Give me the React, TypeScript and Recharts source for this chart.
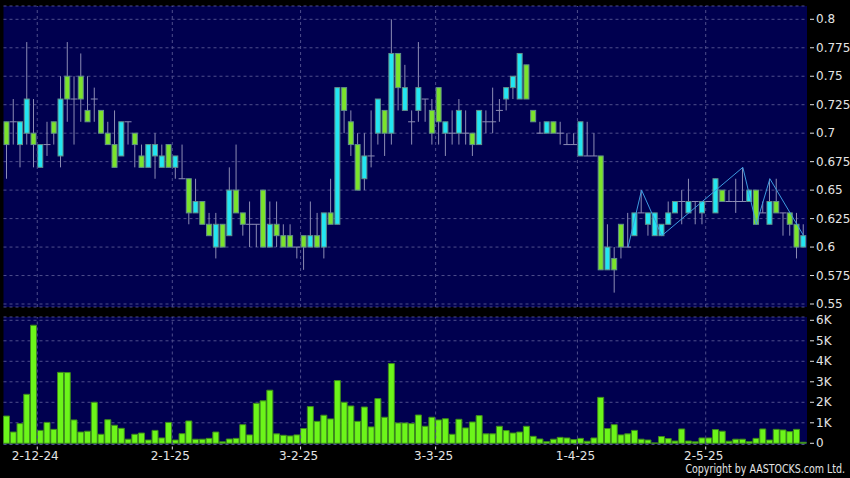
import React from "react";
import { ComposedChart, Bar, Line, XAxis, YAxis, CartesianGrid, ReferenceLine } from "recharts";

// daily OHLC, trading-day index 0 = 25 Nov 2024
const OPEN = [
  0.71, 0.71, 0.69, 0.70, 0.70, 0.67, 0.69, 0.71, 0.68, 0.75, 0.73, 0.75, 0.72, 0.73, 0.72, 0.70, 0.69, 0.68, 0.71, 0.70,
  0.68, 0.67, 0.68, 0.67, 0.69, 0.67, 0.66, 0.66, 0.63, 0.64, 0.62, 0.60, 0.62, 0.61, 0.65, 0.63, 0.62, 0.62, 0.65, 0.60,
  0.62, 0.61, 0.61, 0.60, 0.61, 0.60, 0.61, 0.60, 0.63, 0.62, 0.74, 0.71, 0.69, 0.66, 0.68, 0.70, 0.72, 0.70, 0.77, 0.72,
  0.71, 0.72, 0.73, 0.72, 0.74, 0.70, 0.70, 0.70, 0.70, 0.70, 0.69, 0.71, 0.71, 0.72, 0.73, 0.74, 0.73, 0.76, 0.72, 0.70,
  0.70, 0.71, 0.70, 0.69, 0.69, 0.68, 0.68, 0.68, 0.68, 0.58, 0.59, 0.62, 0.60, 0.61, 0.63, 0.62, 0.61, 0.61, 0.62, 0.63,
  0.64, 0.63, 0.64, 0.63, 0.64, 0.63, 0.65, 0.64, 0.64, 0.64, 0.64, 0.65, 0.63, 0.62, 0.64, 0.63, 0.63, 0.62, 0.60,
];
const HIGH = [
  0.71, 0.73, 0.71, 0.78, 0.73, 0.69, 0.71, 0.71, 0.75, 0.78, 0.75, 0.77, 0.75, 0.74, 0.72, 0.71, 0.72, 0.71, 0.71, 0.70,
  0.69, 0.69, 0.70, 0.69, 0.69, 0.68, 0.69, 0.66, 0.66, 0.64, 0.63, 0.63, 0.62, 0.67, 0.69, 0.63, 0.64, 0.62, 0.65, 0.64,
  0.64, 0.62, 0.62, 0.60, 0.61, 0.64, 0.63, 0.63, 0.66, 0.74, 0.74, 0.72, 0.70, 0.70, 0.72, 0.73, 0.72, 0.80, 0.77, 0.76,
  0.72, 0.78, 0.73, 0.73, 0.74, 0.71, 0.72, 0.73, 0.72, 0.70, 0.72, 0.72, 0.74, 0.73, 0.74, 0.75, 0.77, 0.76, 0.72, 0.71,
  0.71, 0.71, 0.71, 0.70, 0.70, 0.71, 0.71, 0.70, 0.68, 0.62, 0.60, 0.62, 0.63, 0.63, 0.65, 0.63, 0.63, 0.62, 0.64, 0.64,
  0.65, 0.66, 0.64, 0.64, 0.64, 0.66, 0.65, 0.65, 0.66, 0.67, 0.65, 0.65, 0.64, 0.66, 0.66, 0.63, 0.63, 0.63, 0.62,
];
const LOW = [
  0.66, 0.69, 0.67, 0.69, 0.67, 0.67, 0.68, 0.69, 0.67, 0.71, 0.69, 0.71, 0.71, 0.71, 0.70, 0.69, 0.67, 0.68, 0.69, 0.67,
  0.67, 0.67, 0.66, 0.67, 0.67, 0.66, 0.66, 0.62, 0.63, 0.62, 0.61, 0.59, 0.60, 0.61, 0.63, 0.61, 0.60, 0.60, 0.60, 0.60,
  0.60, 0.60, 0.60, 0.59, 0.58, 0.60, 0.60, 0.59, 0.62, 0.62, 0.70, 0.68, 0.65, 0.65, 0.67, 0.69, 0.68, 0.69, 0.72, 0.72,
  0.69, 0.71, 0.71, 0.69, 0.69, 0.68, 0.69, 0.69, 0.69, 0.68, 0.69, 0.70, 0.70, 0.71, 0.72, 0.73, 0.73, 0.73, 0.71, 0.70,
  0.70, 0.70, 0.69, 0.69, 0.69, 0.68, 0.68, 0.68, 0.58, 0.58, 0.56, 0.59, 0.60, 0.61, 0.63, 0.61, 0.61, 0.61, 0.62, 0.63,
  0.62, 0.63, 0.62, 0.62, 0.64, 0.63, 0.64, 0.64, 0.63, 0.64, 0.64, 0.62, 0.63, 0.62, 0.63, 0.61, 0.61, 0.59, 0.60,
];
const CLOSE = [
  0.69, 0.71, 0.71, 0.73, 0.69, 0.69, 0.69, 0.70, 0.73, 0.73, 0.73, 0.73, 0.71, 0.73, 0.70, 0.69, 0.67, 0.71, 0.71, 0.69,
  0.67, 0.69, 0.69, 0.68, 0.67, 0.68, 0.66, 0.63, 0.64, 0.62, 0.61, 0.62, 0.60, 0.65, 0.63, 0.62, 0.62, 0.62, 0.60, 0.62,
  0.61, 0.60, 0.60, 0.60, 0.60, 0.61, 0.60, 0.63, 0.62, 0.74, 0.72, 0.69, 0.65, 0.68, 0.68, 0.73, 0.70, 0.77, 0.74, 0.74,
  0.71, 0.74, 0.73, 0.70, 0.71, 0.71, 0.70, 0.72, 0.70, 0.69, 0.72, 0.71, 0.71, 0.72, 0.74, 0.75, 0.77, 0.73, 0.71, 0.70,
  0.71, 0.70, 0.70, 0.69, 0.69, 0.71, 0.68, 0.68, 0.58, 0.60, 0.58, 0.60, 0.60, 0.63, 0.63, 0.63, 0.63, 0.62, 0.63, 0.64,
  0.64, 0.64, 0.64, 0.64, 0.64, 0.66, 0.64, 0.64, 0.64, 0.64, 0.65, 0.62, 0.63, 0.64, 0.63, 0.63, 0.62, 0.60, 0.61,
];
const VOLUME = [
  1330, 550, 960, 2390, 5760, 630, 1020, 680, 3460, 3450, 1140, 550, 590, 2000, 440, 1150, 880, 730, 200, 440,
  500, 160, 630, 260, 1020, 160, 470, 1090, 200, 200, 240, 550, 70, 210, 240, 910, 410, 1950, 2070, 2590,
  460, 390, 360, 410, 720, 1790, 1070, 1370, 1190, 3060, 2000, 1820, 1070, 1770, 800, 2180, 1270, 3890, 990, 990,
  960, 1380, 830, 1270, 1140, 1200, 440, 1170, 750, 1040, 1350, 460, 460, 830, 620, 500, 550, 830, 340, 210,
  80, 200, 290, 260, 180, 240, 100, 260, 2240, 720, 910, 410, 460, 630, 200, 160, 20, 330, 230, 110,
  700, 110, 70, 260, 260, 670, 590, 100, 200, 200, 80, 240, 700, 160, 680, 650, 570, 680, 50,
];

// zigzag overlay turning points
const ZZ_INDEX = [92, 94, 97, 109, 111, 113, 118];
const ZZ_VALUE = [0.6, 0.65, 0.61, 0.67, 0.62, 0.66, 0.61];

const MONTH_START = [5, 25, 44, 64, 85, 104];
const MONTH_LABEL = ["2-12-24", "2-1-25", "3-2-25", "3-3-25", "1-4-25", "2-5-25"];
const PRICE_TICKS = [0.55, 0.575, 0.6, 0.625, 0.65, 0.675, 0.7, 0.725, 0.75, 0.775, 0.8];
const VOL_TICKS = [0, 1000, 2000, 3000, 4000, 5000, 6000];

const data = OPEN.map((o, i) => ({
  i,
  open: o,
  high: HIGH[i],
  low: LOW[i],
  close: CLOSE[i],
  range: [LOW[i], HIGH[i]],
  vol: VOLUME[i],
  zz: ZZ_INDEX.includes(i) ? ZZ_VALUE[ZZ_INDEX.indexOf(i)] : null,
}));

const NAVY = "#00004f";
const GRID = "#4e4e8c";
const GREEN = "#7be32b";
const CYAN = "#22e6f2";
const EDGE = "#62908a";
const WICK = "#8c8cb4";
const TEXT = "#e4e4e4";
const FONT = "'DejaVu Sans', sans-serif";

const LEFT = 3.5;
const AXIS_W = 43;
const BAND = (850 - LEFT - AXIS_W) / OPEN.length;

const Candle = (props: any) => {
  const { x, y, width, height, payload } = props;
  const { open, close, high, low } = payload;
  const top = Math.min(y, y + height);
  const h = Math.abs(height);
  const toY = (v: number) => (high === low ? top : top + (h * (high - v)) / (high - low));
  const cx = x + width / 2;
  const yo = toY(open);
  const yc = toY(close);
  const bt = Math.min(yo, yc);
  const bb = Math.max(yo, yc);
  return (
    <g>
      <line x1={cx} x2={cx} y1={top} y2={top + h} stroke={WICK} strokeWidth={1} />
      {open === close ? (
        <line x1={x - 0.5} x2={x + width + 0.5} y1={yo} y2={yo} stroke={WICK} strokeWidth={1} />
      ) : (
        <rect x={x + 0.5} y={bt} width={width - 1} height={bb - bt} fill={close > open ? CYAN : GREEN} stroke={EDGE} strokeWidth={1} />
      )}
    </g>
  );
};

const RightTick = ({ x, y, payload, fmt }: any) => (
  <g>
    <line x1={x + 3} x2={x + 7} y1={y} y2={y} stroke={TEXT} />
    <text x={x + 9} y={y} dy={4} fill={TEXT} fontSize={12} fontFamily={FONT}>
      {fmt(payload.value)}
    </text>
  </g>
);

const DateTick = ({ x, y, payload }: any) => {
  const k = MONTH_START.indexOf(payload.value);
  const bx = x - BAND / 2;
  return (
    <g>
      <line x1={bx} x2={bx} y1={y + 2} y2={y + 5} stroke={TEXT} />
      <text x={bx - 2} y={y + 15.5} textAnchor="middle" fill={TEXT} fontSize={12} fontFamily={FONT}>
        {MONTH_LABEL[k]}
      </text>
    </g>
  );
};

const priceFmt = (v: number) => String(+v.toFixed(3));
const volFmt = (v: number) => (v === 0 ? "0" : `${v / 1000}K`);

export default function App() {
  return (
    <div style={{ position: "absolute", left: 0, top: 0, width: 850, height: 478, background: "#000", overflow: "hidden" }}>
      <div style={{ position: "absolute", left: 0, top: 0 }}>
        <ComposedChart width={850} height={312} data={data} margin={{ top: 6, right: 0, bottom: 5, left: LEFT }} barCategoryGap={0}>
          <CartesianGrid vertical={false} stroke={GRID} strokeDasharray="3 3" fill={NAVY} fillOpacity={1} />
          <XAxis dataKey="i" hide height={0} />
          <YAxis
            orientation="right"
            width={AXIS_W}
            domain={[0.54737, 0.81168]}
            allowDataOverflow
            ticks={PRICE_TICKS}
            axisLine={false}
            tickLine={false}
            tickSize={0}
            tickMargin={0}
            interval={0}
            tick={<RightTick fmt={priceFmt} />}
          />
          {MONTH_START.map((m) => (
            <ReferenceLine key={m} x={m} position="start" stroke={GRID} strokeDasharray="3 3" />
          ))}
          <Bar dataKey="range" barSize={6} shape={<Candle />} isAnimationActive={false} />
          <Line dataKey="zz" stroke="#3d9be0" strokeWidth={1} dot={false} connectNulls isAnimationActive={false} />
        </ComposedChart>
      </div>
      <div style={{ position: "absolute", left: 0, top: 310 }}>
        <ComposedChart width={850} height={168} data={data} margin={{ top: 7, right: 0, bottom: 0, left: LEFT }} barCategoryGap={0}>
          <CartesianGrid vertical={false} stroke={GRID} strokeDasharray="3 3" fill={NAVY} fillOpacity={1} />
          <XAxis
            dataKey="i"
            height={33.5}
            ticks={MONTH_START}
            interval={0}
            axisLine={false}
            tickLine={false}
            tickSize={0}
            tickMargin={0}
            tick={<DateTick />}
          />
          <YAxis
            orientation="right"
            width={AXIS_W}
            domain={[-59, 6161]}
            allowDataOverflow
            ticks={VOL_TICKS}
            axisLine={false}
            tickLine={false}
            tickSize={0}
            tickMargin={0}
            interval={0}
            tick={<RightTick fmt={volFmt} />}
          />
          {MONTH_START.map((m) => (
            <ReferenceLine key={m} x={m} position="start" stroke={GRID} strokeDasharray="3 3" />
          ))}
          <Bar dataKey="vol" barSize={6} fill="#6cf51a" stroke="#3d8a1c" strokeWidth={1} isAnimationActive={false} />
        </ComposedChart>
      </div>
      <div
        style={{
          position: "absolute",
          right: 5,
          top: 463,
          fontFamily: FONT,
          fontSize: 12,
          lineHeight: "13px",
          color: TEXT,
          whiteSpace: "nowrap",
          transform: "scaleX(0.79)",
          transformOrigin: "right center",
        }}
      >
        Copyright by AASTOCKS.com Ltd.
      </div>
    </div>
  );
}
